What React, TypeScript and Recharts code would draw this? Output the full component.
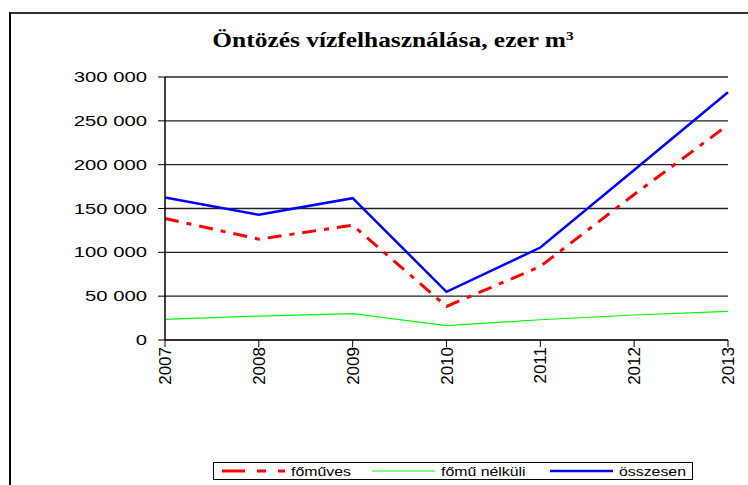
import { LineChart, Line, XAxis, YAxis, CartesianGrid } from 'recharts'

const years = ['2007', '2008', '2009', '2010', '2011', '2012', '2013']
const fomuves = [138600, 115000, 131000, 38300, 83900, 166000, 245300]
const fomuNelkuli = [23500, 27300, 30000, 16300, 23100, 28500, 32600]
const osszesen = [162500, 142800, 161800, 55000, 105500, 194000, 282600]
const yTicks = [0, 50000, 100000, 150000, 200000, 250000, 300000]

const series = [
  { key: 'fomuves', name: 'főműves', color: '#ff0000', width: 3, dash: '14 8 5 8' },
  { key: 'fomuNelkuli', name: 'főmű nélküli', color: '#00ff00', width: 1.2, dash: undefined },
  { key: 'osszesen', name: 'összesen', color: '#0000ff', width: 2.5, dash: undefined },
]
// legend sample start x, inside the legend box
const legendX = [222, 372, 550]

const data = years.map((y, i) => ({
  year: y,
  fomuves: fomuves[i],
  fomuNelkuli: fomuNelkuli[i],
  osszesen: osszesen[i],
}))

const sans = "Arial, 'Liberation Sans', sans-serif"
const fmt = (v: number) => v.toLocaleString('en-US').replace(/,/g, ' ')

function YearTick({ x, y, payload }: any) {
  return (
    <text
      x={x}
      y={y}
      transform={`rotate(-90 ${x} ${y})`}
      textAnchor="end"
      dy="0.36em"
      fontSize={17}
      fontFamily={sans}
      fill="#000"
    >
      {payload.value}
    </text>
  )
}

function ValueTick({ x, y, payload }: any) {
  return (
    <text
      transform={`translate(${x} ${y}) scale(1.45 1)`}
      textAnchor="end"
      dy="0.36em"
      fontSize={14}
      fontFamily={sans}
      fill="#000"
    >
      {fmt(payload.value)}
    </text>
  )
}

export default function App() {
  return (
    <div style={{ position: 'absolute', left: 0, top: 0, width: 748, height: 485, overflow: 'hidden', background: '#fff' }}>
      {/* chart frame, right and bottom edges fall outside the picture */}
      <div
        style={{
          position: 'absolute', left: 9, top: 12, width: 760, height: 500,
          borderLeft: '2px solid #000', borderTop: '2px solid #333',
        }}
      />
      <div
        style={{
          position: 'absolute', left: 0, width: 786, top: 29, textAlign: 'center',
          fontFamily: "'Liberation Serif', 'Times New Roman', serif", fontWeight: 'bold', fontSize: 20,
          transform: 'scaleX(1.27)', transformOrigin: '393px 0',
        }}
      >
        Öntözés vízfelhasználása, ezer m<sup style={{ fontSize: 12, verticalAlign: '0.6em' }}>3</sup>
      </div>
      <div style={{ position: 'absolute', left: 0, top: 0 }}>
        <LineChart width={748} height={485} data={data} margin={{ top: 77, right: 20, bottom: 95, left: 105 }}>
          <CartesianGrid vertical={false} stroke="#222" strokeWidth={1.3} />
          <XAxis
            dataKey="year"
            height={50}
            tickSize={7}
            tickMargin={0}
            tick={<YearTick />}
            axisLine={{ stroke: '#222', strokeWidth: 1.3 }}
            tickLine={{ stroke: '#000' }}
            interval={0}
          />
          <YAxis
            width={60}
            domain={[0, 300000]}
            ticks={yTicks}
            tickSize={7}
            tickMargin={11}
            axisLine={{ stroke: '#000', strokeWidth: 1.5 }}
            tickLine={{ stroke: '#000' }}
            tick={<ValueTick />}
          />
          {series.map((s) => (
            <Line
              key={s.key}
              type="linear"
              dataKey={s.key}
              name={s.name}
              stroke={s.color}
              strokeWidth={s.width}
              strokeDasharray={s.dash}
              dot={false}
              activeDot={false}
              isAnimationActive={false}
            />
          ))}
        </LineChart>
      </div>
      <div
        style={{
          position: 'absolute', left: 213, top: 462, width: 478, height: 16,
          border: '1px solid #000', fontFamily: sans, fontSize: 13,
        }}
      >
        {series.map((s, i) => (
          <div key={s.key} style={{ position: 'absolute', left: legendX[i] - 214, top: 0, height: 16, display: 'flex', alignItems: 'center' }}>
            <svg width={63} height={6} style={{ marginRight: 6 }}>
              <line
                x1={0} y1={3} x2={63} y2={3}
                stroke={s.color}
                strokeWidth={s.width}
                strokeDasharray={s.dash ? '23 12 9 12' : undefined}
              />
            </svg>
            <span style={{ display: 'inline-block', transform: 'scaleX(1.22)', transformOrigin: '0 50%', whiteSpace: 'nowrap' }}>{s.name}</span>
          </div>
        ))}
      </div>
    </div>
  )
}
